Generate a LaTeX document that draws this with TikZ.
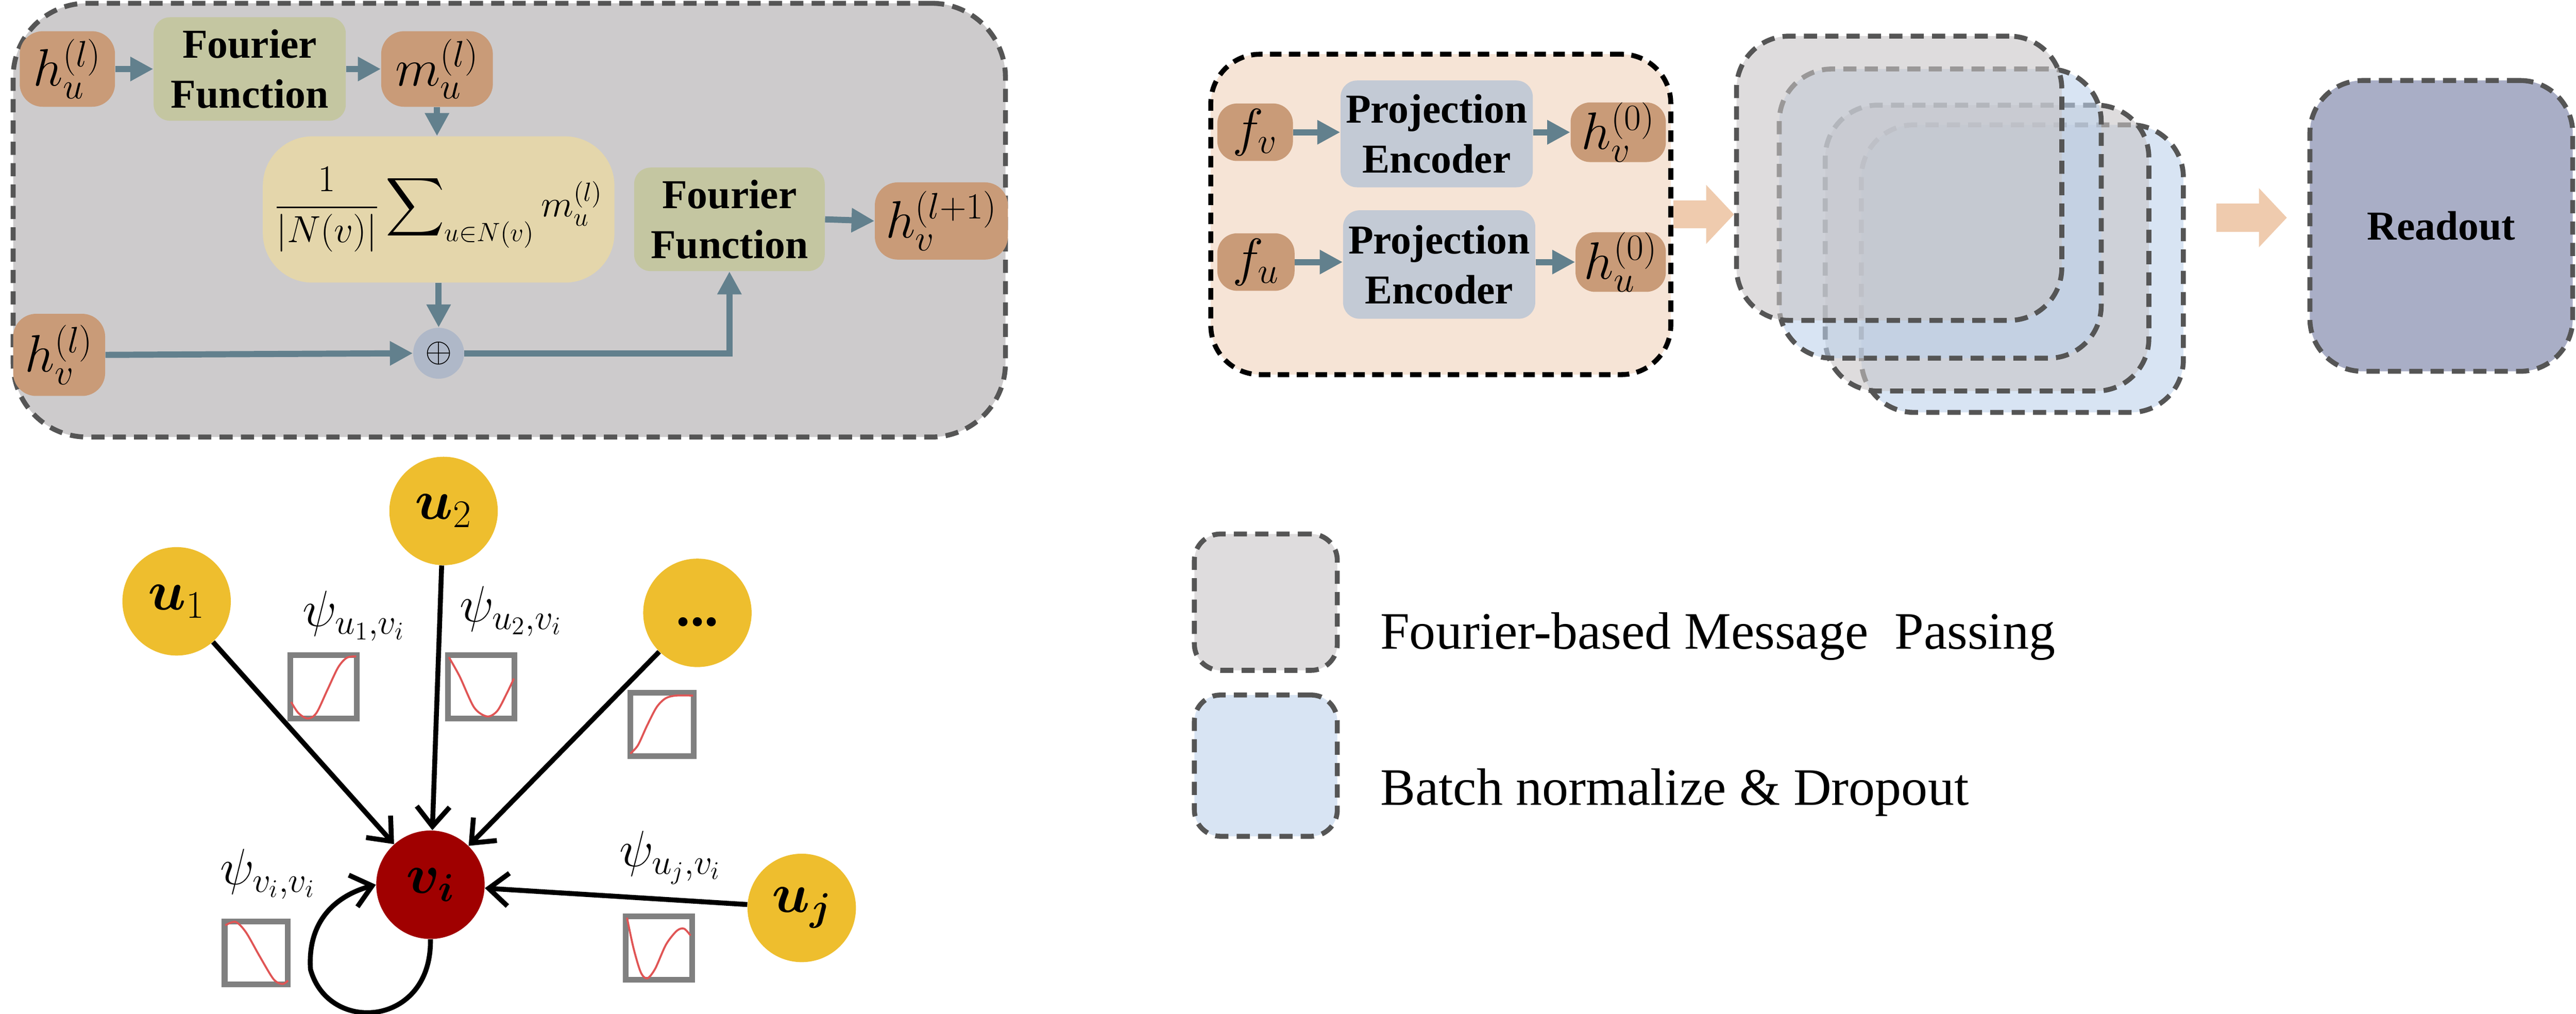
\RequirePackage{fix-cm}
\documentclass[tikz,border=0pt]{standalone}
\usepackage{amsmath}
\usepackage{bm}
\usepackage{fontspec}
\setmainfont{Liberation Serif}
\usetikzlibrary{arrows.meta}
\definecolor{pgray}{HTML}{CDCBCC}
\definecolor{nbrown}{HTML}{C99B78}
\definecolor{ffgreen}{HTML}{C4C6A1}
\definecolor{sumy}{HTML}{E4D6AB}
\definecolor{oplusc}{HTML}{AFB8C8}
\definecolor{steelc}{HTML}{62808D}
\definecolor{orangep}{HTML}{F6E4D6}
\definecolor{peblue}{HTML}{C3CAD5}
\definecolor{peachc}{HTML}{EFCBAE}
\definecolor{readc}{HTML}{A9AEC6}
\definecolor{leggray}{HTML}{DEDCDD}
\definecolor{legblue}{HTML}{D8E4F3}
\definecolor{lgrayB}{HTML}{C8C5C6}
\definecolor{lblueB}{HTML}{BED2EB}
\definecolor{dashc}{HTML}{555555}
\definecolor{yellowc}{HTML}{EEBE2E}
\definecolor{redc}{HTML}{A00000}
\definecolor{plotgray}{HTML}{808080}
\definecolor{curvered}{HTML}{E05555}
\newcommand\fntB{\fontsize{25}{30.5}\selectfont\bfseries}
\newcommand\fntM{\fontsize{32}{36}\selectfont}
\newcommand\fntS{\fontsize{23}{28}\selectfont}
\newcommand\fntL{\fontsize{32}{38}\selectfont}
\newcommand\fntP{\fontsize{31}{36}\selectfont}
\newcommand\fntG{\fontsize{34}{38}\selectfont}
\newcommand\fplot[5]{%
  \draw[plotframe] (#1+1.75,#2+1.75) rectangle ++(#3-3.5,#4-3.5);
  \begin{scope}[shift={(#1,#2)},x=#3pt,y=-#4pt]
    \draw[curvestyle] plot[smooth] coordinates {#5};
  \end{scope}}
\begin{document}
\begin{tikzpicture}[x=1pt,y=-1pt,
  brownbox/.style={fill=nbrown, rounded corners=14pt, inner sep=0pt, font=\fntM},
  greenbox/.style={fill=ffgreen, rounded corners=10pt, inner sep=0pt, align=center, font=\fntB, minimum width=117pt, minimum height=63pt},
  pebox/.style={fill=peblue, rounded corners=10pt, inner sep=0pt, align=center, font=\fntB, minimum width=117pt, minimum height=65pt},
  steel/.style={draw=steelc, line width=3.75pt, -{Triangle[length=14pt,width=14pt]}},
  peacharrow/.style={draw=peachc, line width=17pt, -{Triangle[length=17pt,width=35pt]}},
  dpanel/.style={draw=dashc, line width=3pt, dash pattern=on 8pt off 5pt},
  layer/.style={dpanel, rounded corners=32pt, fill opacity=0.6, draw opacity=1, inner sep=0pt},
  gnode/.style={circle, fill=yellowc, minimum size=66pt, inner sep=0pt, font=\fntG},
  garrow/.style={draw=black, line width=3pt, -{Straight Barb[length=12pt,width=20pt]}},
  psilab/.style={font=\fntP, inner sep=0pt},
  legtext/.style={font=\fntL, anchor=base west, inner sep=0pt},
  plotframe/.style={draw=plotgray, line width=3.5pt},
  curvestyle/.style={draw=curvered, line width=1.2pt},
]
\useasboundingbox (0,0) rectangle (1568,617);

% ---------- Fourier-based message passing panel ----------
\node[dpanel, fill=pgray, rounded corners=45pt, minimum width=604pt, minimum height=264pt, inner sep=0pt] (mp) at (310,134) {};
\node[brownbox, minimum width=58pt, minimum height=46pt] (hu) at (41,42) {$h_u^{(l)}$};
\node[greenbox] (ff1) at (152,42) {Fourier\\Function};
\node[brownbox, minimum width=68pt, minimum height=46pt] (mu) at (266,42) {$m_u^{(l)}$};
\node[fill=sumy, rounded corners=30pt, minimum width=214pt, minimum height=89pt, inner sep=0pt, font=\fntS] (sum) at (267,127.5) {$\displaystyle\frac{1}{|N(v)|}\sum\nolimits_{u\in N(v)} m_u^{(l)}$};
\node[greenbox, minimum width=116pt] (ff2) at (444,133.5) {Fourier\\Function};
\node[brownbox, minimum width=81pt, minimum height=47pt] (hv1) at (573,134.5) {$h_v^{(l+1)}$};
\node[brownbox, minimum width=56pt, minimum height=50pt] (hvl) at (36,216) {$h_v^{(l)}$};
\node[circle, fill=oplusc, minimum size=31pt, inner sep=0pt, font=\fontsize{21}{24}\selectfont] (oplus) at (267,215) {$\oplus$};

\draw[steel] (hu.east) -- (ff1.west);
\draw[steel] (ff1.east) -- (mu.west);
\draw[steel] (mu.south) -- (mu.south |- sum.north);
\draw[steel] (sum.south) -- (oplus.north);
\draw[steel] (hvl.east) -- (oplus.west);
\draw[steel] (oplus.east) -- (ff2.south |- oplus.east) -- (ff2.south);
\draw[steel] (ff2.east) -- (hv1.west);

% ---------- Encoder panel ----------
\node[draw=black, line width=3pt, dash pattern=on 7pt off 4.5pt, fill=orangep, rounded corners=30pt, minimum width=280pt, minimum height=195pt, inner sep=0pt] (enc) at (877,130.5) {};
\node[brownbox, rounded corners=12pt, minimum width=46pt, minimum height=35pt] (fv) at (764,80.5) {$f_v$};
\node[pebox] (pe1) at (874.5,81.5) {Projection\\Encoder};
\node[brownbox, rounded corners=12pt, minimum width=58pt, minimum height=35pt] (hv0) at (985,80.5) {$h_v^{(0)}$};
\node[brownbox, rounded corners=12pt, minimum width=47pt, minimum height=35pt] (fu) at (764.5,159.5) {$f_u$};
\node[pebox, minimum height=66pt] (pe2) at (876,161) {Projection\\Encoder};
\node[brownbox, rounded corners=12pt, minimum width=55pt, minimum height=35pt] (hu0) at (986.5,159.5) {$h_u^{(0)}$};
\draw[steel] (fv.east) -- (fv.east -| pe1.west);
\draw[steel] (pe1.east |- hv0.west) -- (hv0.west);
\draw[steel] (fu.east) -- (fu.east -| pe2.west);
\draw[steel] (pe2.east |- hu0.west) -- (hu0.west);

% ---------- layer stack ----------
\node[layer, fill=lblueB, minimum width=196pt, minimum height=175pt] (lD) at (1231,163.5) {};
\node[layer, fill=lgrayB, minimum width=197pt, minimum height=174pt] (lC) at (1209.5,151) {};
\node[layer, fill=lblueB, minimum width=196pt, minimum height=176pt] (lB) at (1181,130) {};
\node[layer, fill=lgrayB, minimum width=198pt, minimum height=173pt] (lA) at (1156,108.5) {};

\draw[peacharrow] (enc.east) -- (enc.east -| lA.west);

% ---------- readout ----------
\node[dpanel, fill=readc, rounded corners=32pt, minimum width=160pt, minimum height=177pt, inner sep=0pt, font=\fntB] (ro) at (1486,137.5) {Readout};
\coordinate (p2s) at (1349,132.5);
\coordinate (p2e) at (1392,132.5);
\draw[peacharrow] (p2s) -- (p2e);

% ---------- legend ----------
\node[dpanel, fill=leggray, rounded corners=16pt, minimum width=87pt, minimum height=83pt, inner sep=0pt] (lg1) at (770.5,366.5) {};
\node[dpanel, fill=legblue, rounded corners=16pt, minimum width=87pt, minimum height=86pt, inner sep=0pt] (lg2) at (770.5,466) {};
\node[legtext] (lt1) at (840,395) {Fourier-based Message\ \ Passing};
\node[legtext] (lt2) at (840,490) {Batch normalize \& Dropout};

% ---------- graph ----------
\node[gnode] (u1) at (107.5,366) {$\bm{u}_1$};
\node[gnode] (u2) at (270,311) {$\bm{u}_2$};
\node[gnode] (ud) at (424.5,373) {\raisebox{-8pt}[0pt][0pt]{\textbf{...}}};
\node[gnode, fill=redc] (vi) at (262,538.5) {$\bm{v}_{\bm{i}}$};
\node[gnode] (uj) at (488,552.6) {$\bm{u}_{\bm{j}}$};

\draw[garrow] (u1) -- (vi);
\draw[garrow] (u2) -- (vi);
\draw[garrow] (ud) -- (vi);
\draw[garrow] (uj) -- (vi);
\draw[garrow] (vi.south) .. controls (263,625) and (200,630) .. (189,590) .. controls (187,560) and (205,545) .. (vi.west);

\node[psilab] (psi1) at (215.5,375) {$\psi_{u_1,v_i}$};
\node[psilab] (psi2) at (311,372) {$\psi_{u_2,v_i}$};
\node[psilab] (psi3) at (163,532) {$\psi_{v_i,v_i}$};
\node[psilab] (psi4) at (408,522) {$\psi_{u_j,v_i}$};

\fplot{175}{397}{44}{42}{(0.05,0.72) (0.15,0.88) (0.28,0.96) (0.40,0.88) (0.55,0.55) (0.70,0.22) (0.82,0.08) (0.95,0.06)}
\fplot{271}{397}{44}{42}{(0.05,0.07) (0.2,0.35) (0.4,0.8) (0.58,0.93) (0.72,0.85) (0.85,0.6) (0.95,0.38)}
\fplot{382}{420}{42}{42}{(0.04,0.92) (0.15,0.8) (0.28,0.52) (0.42,0.25) (0.55,0.12) (0.7,0.08) (0.95,0.08)}
\fplot{135}{559}{42}{42}{(0.05,0.1) (0.2,0.05) (0.35,0.2) (0.55,0.55) (0.75,0.88) (0.88,0.95) (0.96,0.9)}
\fplot{379}{556}{44}{42}{(0.06,0.06) (0.15,0.5) (0.25,0.85) (0.34,0.94) (0.45,0.8) (0.6,0.45) (0.75,0.25) (0.85,0.22) (0.94,0.32)}
\end{tikzpicture}
\end{document}
